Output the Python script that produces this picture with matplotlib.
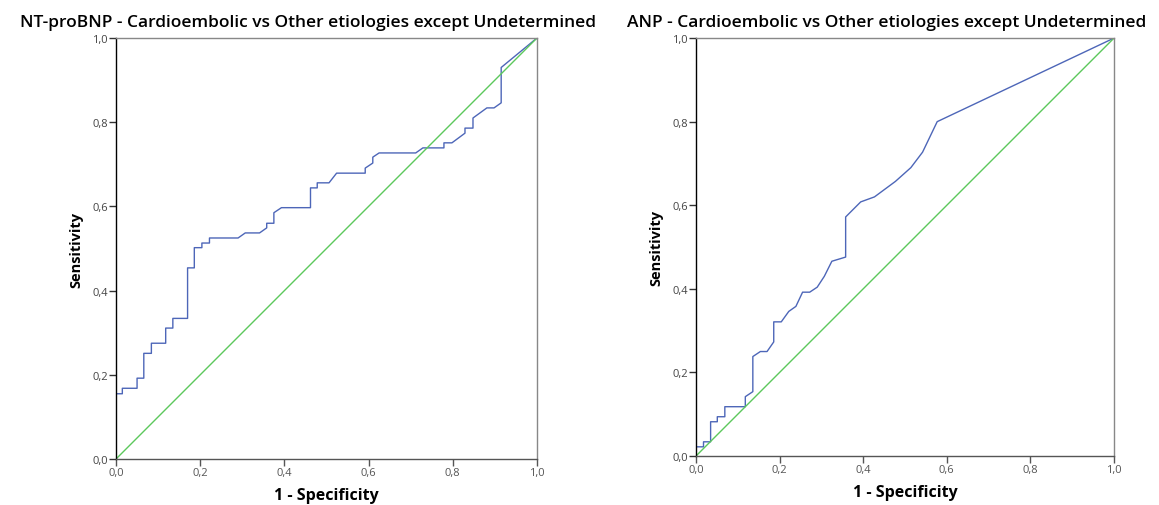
import matplotlib.pyplot as plt
from matplotlib.ticker import FuncFormatter

plt.rcParams['font.family'] = ['Open Sans', 'DejaVu Sans']

# NT-proBNP ROC curve (1 - specificity, sensitivity)
bnp_fpr = [0.0, 0.015, 0.015, 0.050, 0.050, 0.066, 0.066, 0.084, 0.084, 0.118, 0.118,
           0.135, 0.135, 0.170, 0.170, 0.186, 0.186, 0.204, 0.204, 0.222, 0.222,
           0.290, 0.307, 0.341, 0.358, 0.358, 0.375, 0.375, 0.393, 0.462, 0.462,
           0.478, 0.478, 0.506, 0.524, 0.592, 0.592, 0.610, 0.610, 0.625, 0.712,
           0.729, 0.779, 0.779, 0.798, 0.829, 0.829, 0.848, 0.848, 0.881, 0.898,
           0.915, 0.915, 1.0]
bnp_tpr = [0.155, 0.155, 0.168, 0.168, 0.192, 0.192, 0.251, 0.251, 0.275, 0.275, 0.311,
           0.311, 0.334, 0.334, 0.454, 0.454, 0.502, 0.502, 0.513, 0.513, 0.525,
           0.525, 0.537, 0.537, 0.549, 0.560, 0.560, 0.585, 0.597, 0.597, 0.644,
           0.644, 0.656, 0.656, 0.679, 0.679, 0.691, 0.703, 0.717, 0.727, 0.727,
           0.739, 0.739, 0.751, 0.751, 0.774, 0.786, 0.786, 0.810, 0.834, 0.834,
           0.846, 0.930, 1.0]

# ANP ROC curve
anp_fpr = [0.0, 0.018, 0.018, 0.035, 0.035, 0.051, 0.051, 0.069, 0.069, 0.118, 0.118,
           0.136, 0.136, 0.154, 0.170, 0.186, 0.186, 0.204, 0.222, 0.239, 0.255,
           0.272, 0.290, 0.307, 0.325, 0.358, 0.358, 0.394, 0.427, 0.477, 0.514,
           0.542, 0.577, 1.0]
anp_tpr = [0.022, 0.022, 0.034, 0.034, 0.082, 0.082, 0.094, 0.094, 0.118, 0.118, 0.142,
           0.154, 0.238, 0.250, 0.250, 0.273, 0.321, 0.321, 0.346, 0.358, 0.392,
           0.392, 0.404, 0.430, 0.466, 0.476, 0.572, 0.608, 0.620, 0.657, 0.690,
           0.727, 0.800, 1.0]

titles = ["NT-proBNP - Cardioembolic vs Other etiologies except Undetermined",
          "ANP - Cardioembolic vs Other etiologies except Undetermined"]
ticks = [0.0, 0.2, 0.4, 0.6, 0.8, 1.0]

BLUE = "#4d66b8"
GREEN = "#5cc85c"

fig = plt.figure(figsize=(11.59, 5.06), dpi=100)
ax1 = fig.add_axes([0.1001, 0.0909, 0.3632, 0.832])
ax2 = fig.add_axes([0.6005, 0.0968, 0.3607, 0.826])

comma = FuncFormatter(lambda v, p: f"{v:.1f}".replace(".", ","))

for ax, fpr, tpr, title in [(ax1, bnp_fpr, bnp_tpr, titles[0]),
                            (ax2, anp_fpr, anp_tpr, titles[1])]:
    ax.plot(fpr, tpr, color=BLUE, lw=1.0)
    ax.plot([0, 1], [0, 1], color=GREEN, lw=1.0)
    ax.set_xlim(0, 1); ax.set_ylim(0, 1)
    ax.set_xticks(ticks); ax.set_yticks(ticks)
    ax.xaxis.set_major_formatter(comma)
    ax.yaxis.set_major_formatter(comma)
    ax.tick_params(direction="out", length=5, width=1, labelsize=8,
                   labelcolor="#444444", colors="#333333", pad=1)
    ax.tick_params(axis="x", colors="#555555")
    ax.spines["left"].set_color("black")
    ax.spines["bottom"].set_color("#555555")
    ax.spines["top"].set_color("#888888")
    ax.spines["right"].set_color("#888888")
    for s in ax.spines.values():
        s.set_linewidth(1.0)
    ax.set_xlabel("1 - Specificity", fontsize=11.5, fontweight="bold", labelpad=6)
    ax.set_ylabel("Sensitivity", fontsize=10.5, fontweight="bold", labelpad=6)
    ax.set_title(title, fontsize=12.5, fontweight="semibold", x=0.456, pad=9)

fig.savefig("out.png", dpi=100)
